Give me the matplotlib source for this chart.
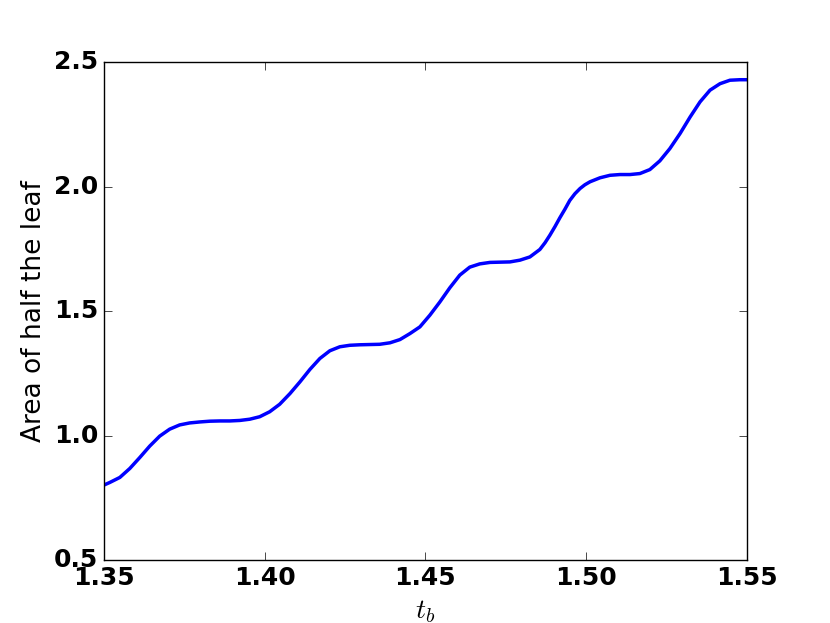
import numpy as np
import matplotlib
matplotlib.use('Agg')
import matplotlib.pyplot as plt

# values
t_b = [1.3500, 1.3519, 1.3550, 1.3581, 1.3612, 1.3643, 1.3674, 1.3705,
       1.3736, 1.3767, 1.3799, 1.3830, 1.3861, 1.3892, 1.3923, 1.3954,
       1.3985, 1.4016, 1.4047, 1.4079, 1.4110, 1.4141, 1.4172, 1.4203,
       1.4234, 1.4265, 1.4296, 1.4327, 1.4358, 1.4390, 1.4421, 1.4452,
       1.4483, 1.4514, 1.4545, 1.4576, 1.4607, 1.4638, 1.4669, 1.4701,
       1.4732, 1.4763, 1.4794, 1.4825, 1.4856, 1.4872, 1.4887, 1.4903,
       1.4918, 1.4934, 1.4949, 1.4965, 1.4981, 1.4996, 1.5012, 1.5043,
       1.5074, 1.5105, 1.5136, 1.5167, 1.5198, 1.5229, 1.5260, 1.5292,
       1.5323, 1.5354, 1.5385, 1.5416, 1.5447, 1.5478, 1.5500]
area = [0.801, 0.812, 0.832, 0.868, 0.912, 0.958, 0.998, 1.026,
        1.043, 1.051, 1.055, 1.058, 1.059, 1.059, 1.061, 1.066,
        1.076, 1.096, 1.126, 1.169, 1.216, 1.266, 1.310, 1.341,
        1.357, 1.363, 1.365, 1.366, 1.367, 1.373, 1.386, 1.410,
        1.437, 1.484, 1.537, 1.594, 1.645, 1.677, 1.690, 1.696,
        1.697, 1.698, 1.705, 1.718, 1.748, 1.775, 1.805, 1.840,
        1.875, 1.910, 1.945, 1.972, 1.993, 2.008, 2.020, 2.036,
        2.046, 2.049, 2.049, 2.053, 2.069, 2.104, 2.153, 2.214,
        2.280, 2.341, 2.388, 2.414, 2.428, 2.430, 2.430]

xticks = [1.35, 1.40, 1.45, 1.50, 1.55]
yticks = [0.5, 1.0, 1.5, 2.0, 2.5]

plt.style.use('classic')
fig = plt.figure(figsize=(8.3, 6.23), dpi=100)
fig.patch.set_facecolor('white')
ax = fig.add_subplot(1, 1, 1)
fig.subplots_adjust(left=0.125, right=0.9, bottom=0.101, top=0.9)

ax.plot(t_b, area, color='b', lw=2.5)

ax.set_xlim(1.35, 1.55)
ax.set_ylim(0.5, 2.5)
ax.set_xticks(xticks)
ax.set_yticks(yticks)
ax.set_xticklabels(['%.2f' % v for v in xticks], fontsize=18, fontweight='bold')
ax.set_yticklabels(['%.1f' % v for v in yticks], fontsize=18, fontweight='bold')
ax.tick_params(direction='in', length=6, pad=4)

ax.set_xlabel('$t_b$', fontsize=20)
ax.set_ylabel('Area of half the leaf', fontsize=19)

plt.savefig('out.png', dpi=100, facecolor='white')
